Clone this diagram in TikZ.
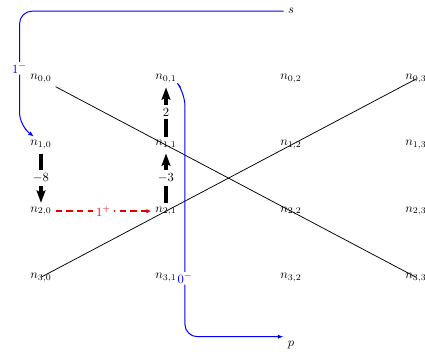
\documentclass[tikz,border=0pt]{standalone}
\usepackage{amsmath}
\usetikzlibrary{positioning, arrows.meta}

\begin{document}
\begin{tikzpicture}[
        node distance=1.85cm and 3.5cm, on grid,
        cell/.style = {inner sep=3pt},
        bluepath/.style = {blue, thick, rounded corners=10pt, -{Latex[length=4.5pt, width=3.5pt]}},
        jumparrow/.style = {line width=3pt, -{Stealth[length=10pt, width=7.5pt, inset=2pt, line width=0pt]}},
        dashmove/.style = {draw=red!90!black, line width=1.2pt, dash pattern=on 5pt off 3.5pt, -{Latex[length=4pt, width=3.5pt]}},
        lbl/.style = {fill=white, inner sep=2.5pt},
    ]
        \useasboundingbox (-1.148,2.212) rectangle (10.752,-7.672);

        \node[cell] (n00) {$n_{0,0}$};
        \node[cell, right=of n00] (n01) {$n_{0,1}$};
        \node[cell, right=of n01] (n02) {$n_{0,2}$};
        \node[cell, right=of n02] (n03) {$n_{0,3}$};
        \node[cell, below=of n00] (n10) {$n_{1,0}$};
        \node[cell, right=of n10] (n11) {$n_{1,1}$};
        \node[cell, right=of n11] (n12) {$n_{1,2}$};
        \node[cell, right=of n12] (n13) {$n_{1,3}$};
        \node[cell, below=of n10] (n20) {$n_{2,0}$};
        \node[cell, right=of n20] (n21) {$n_{2,1}$};
        \node[cell, right=of n21] (n22) {$n_{2,2}$};
        \node[cell, right=of n22] (n23) {$n_{2,3}$};
        \node[cell, below=of n20] (n30) {$n_{3,0}$};
        \node[cell, right=of n30] (n31) {$n_{3,1}$};
        \node[cell, right=of n31] (n32) {$n_{3,2}$};
        \node[cell, right=of n32] (n33) {$n_{3,3}$};

        \node[above=1.9cm of n02] (s) {$s$};
        \node[below=1.9cm of n32] (p) {$p$};
        \coordinate (sbend) at (-0.6,-1.3);
        \coordinate (pbend) at (4.03,-0.4);

        \draw[semithick] (n00) -- (n33.center);
        \draw[semithick] (n30.center) -- (n03.center);

        \draw[bluepath] (s.west) -| (sbend) node[pos=0.75, lbl, inner sep=1pt] {$1^-$} -- (n10.130);
        \draw[bluepath] (n01.south east) -- (pbend) |- node[pos=0.38, lbl, inner sep=1pt] {$0^-$} (p.north west);

        \draw[jumparrow] (n10) -- node[lbl] {$-8$} (n20);
        \draw[jumparrow] (n21) -- node[lbl] {$-3$} (n11);
        \draw[jumparrow] (n11) -- node[lbl] {$2$} (n01);
        \draw[dashmove] (n20) -- node[lbl, text=red] {$1^+$} (n21);
    \end{tikzpicture}
\end{document}
